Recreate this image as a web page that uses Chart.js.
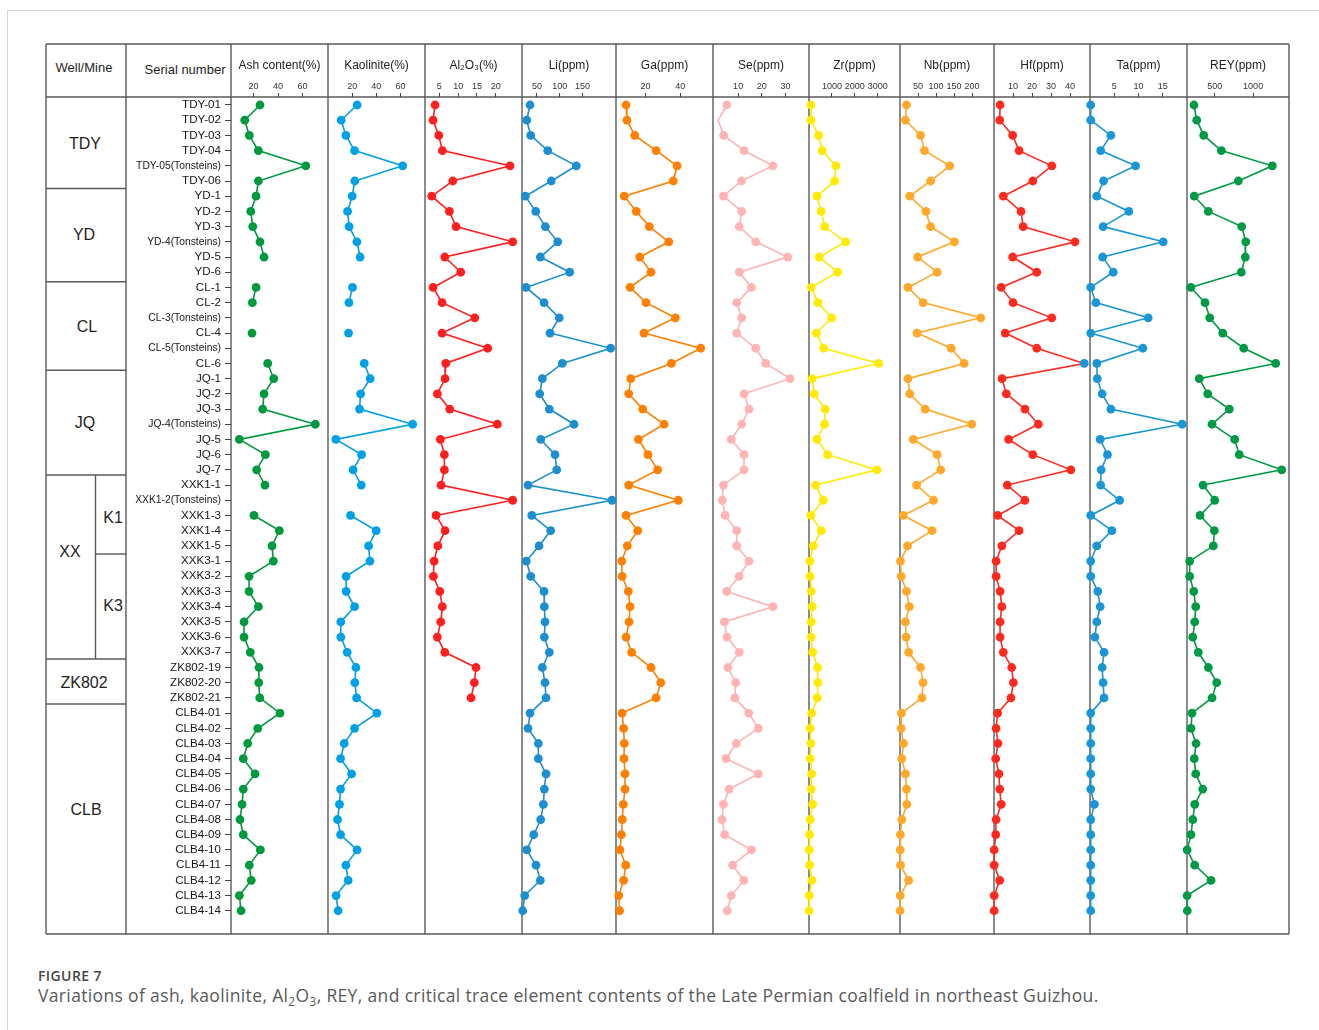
<!DOCTYPE html>
<html>
<head>
<meta charset="utf-8">
<title>Figure 7 – Late Permian coalfield, northeast Guizhou</title>
<script src="https://cdn.jsdelivr.net/npm/chart.js@4.4.1/dist/chart.umd.min.js"></script>
<style>
  html, body { margin: 0; padding: 0; background: #fff; }
  #page { position: relative; width: 1319px; height: 1030px; overflow: hidden;
          font-family: 'Liberation Sans', Arial, Helvetica, sans-serif; color: #1e1e1e; }
  #frame { position: absolute; left: 7px; top: 10px; width: 1400px; height: 1100px;
           border-left: 1px solid #d6d6d6; border-top: 1px solid #d6d6d6; }
  #grid { position: absolute; left: 0; top: 0; }
  .lbl { position: absolute; transform: translate(-50%, -50%); white-space: nowrap; }
  .grp { font-size: 16px; }
  .head { font-size: 13px; }
  canvas { position: absolute; }
  .cap1 { position: absolute; left: 38px; top: 966px; font: 600 14px 'Open Sans', sans-serif;
          letter-spacing: 0.4px; color: #474747; }
  .cap2 { position: absolute; left: 38px; top: 983px; font: 17.5px 'Open Sans', sans-serif;
          letter-spacing: 0.35px; color: #595959; white-space: nowrap; }
  .cap2 sub { font-size: 0.68em; vertical-align: -0.3em; line-height: 0; }
</style>
</head>
<body>
<div id="page">
  <div id="frame"></div>
  <svg id="grid" width="1319" height="1030"></svg>

  <div class="lbl head" style="left:84px;top:67px">Well/Mine</div>
  <div class="lbl head" style="left:185px;top:69px">Serial number</div>

  <div class="lbl grp" style="left:85px;top:144px">TDY</div>
  <div class="lbl grp" style="left:84px;top:235px">YD</div>
  <div class="lbl grp" style="left:87px;top:327px">CL</div>
  <div class="lbl grp" style="left:85px;top:423px">JQ</div>
  <div class="lbl grp" style="left:70px;top:552px">XX</div>
  <div class="lbl grp" style="left:113px;top:518px">K1</div>
  <div class="lbl grp" style="left:113px;top:606px">K3</div>
  <div class="lbl grp" style="left:84px;top:683px">ZK802</div>
  <div class="lbl grp" style="left:86px;top:810px">CLB</div>

  <div class="cap1">FIGURE 7</div>
  <div class="cap2">Variations of ash, kaolinite, Al<sub>2</sub>O<sub>3</sub>, REY, and critical trace element contents of the Late Permian coalfield in northeast Guizhou.</div>
</div>

<script>
// ---- Samples, top to bottom ----
const samples = [
  'TDY-01','TDY-02','TDY-03','TDY-04','TDY-05(Tonsteins)','TDY-06',
  'YD-1','YD-2','YD-3','YD-4(Tonsteins)','YD-5','YD-6',
  'CL-1','CL-2','CL-3(Tonsteins)','CL-4','CL-5(Tonsteins)','CL-6',
  'JQ-1','JQ-2','JQ-3','JQ-4(Tonsteins)','JQ-5','JQ-6','JQ-7',
  'XXK1-1','XXK1-2(Tonsteins)','XXK1-3','XXK1-4','XXK1-5',
  'XXK3-1','XXK3-2','XXK3-3','XXK3-4','XXK3-5','XXK3-6','XXK3-7',
  'ZK802-19','ZK802-20','ZK802-21',
  'CLB4-01','CLB4-02','CLB4-03','CLB4-04','CLB4-05','CLB4-06','CLB4-07',
  'CLB4-08','CLB4-09','CLB4-10','CLB4-11','CLB4-12','CLB4-13','CLB4-14'
];

// ---- Measured contents (null = not analysed) ----
const ash = [25.3,12.9,16.6,24.0,62.6,24.0, 22.1,17.8,19.4,25.3,28.6,null,
  22.1,19.1,null,18.8,null,31.6, 36.5,28.6,27.5,70.4,8.5,29.7,22.6,
  29.4,null,20.4,41.1,35.1, 36.2,16.4,16.4,24.0,12.3,12.3,17.4, 24.5,24.3,25.1,
  41.6,23.5,15.3,11.7,21.3,11.7,10.7,9.0,11.7,25.6,16.6,18.2,8.5,9.9];

const kaolinite = [24.1,10.9,14.8,22.0,61.8,22.2, 20.0,16.2,17.5,23.9,26.6,null,
  20.3,17.3,null,17.0,null,30.0, 34.9,27.0,26.1,70.1,6.5,27.8,20.8,
  27.5,null,18.7,39.9,33.6, 34.7,15.0,15.0,22.0,10.6,10.6,15.9, 23.1,22.2,23.7,
  40.5,22.0,13.4,10.4,19.5,10.4,9.5,7.9,10.4,24.1,14.8,16.7,6.7,8.4];

const al2o3 = [3.87,3.34,4.85,5.81,23.77,8.57, 3.0,7.67,9.44,24.48,6.45,10.69,
  3.34,5.73,14.4,5.73,17.85,6.71, 6.53,4.48,7.77,20.4,5.28,6.34,6.34,
  5.46,24.48,4.14,6.53,4.59, 3.61,3.42,5.12,5.81,5.38,4.48,6.45, 14.75,14.3,13.42,
  null,null,null,null,null,null,null,null,null,null,null,null,null,null];

const li = [34.7,27.5,36.3,73.6,136.5,81.5, 24.4,47.3,68.4,95.6,57.4,122,
  25.9,65.5,99.1,78.7,212,105.7, 61.8,56,77.1,131.4,58.2,89.7,93.4,
  30.3,215,38.5,80.2,54.5, 26.6,36.3,65.5,66.2,67.7,66.2,77.1, 61.8,67.7,69.9,
  34.7,30.3,53,53,69.9,66.2,64,58.2,42.9,27.5,47.9,57.4,23.1,18.7];

const ga = [8.8,9.3,13.8,26.1,38.2,36.0, 7.8,14.7,22.2,33.4,16.7,23.2,
  11.1,20.3,37.2,19.1,51.8,34.9, 11.5,10.3,18.4,30.7,15.9,21.4,27.0,
  10.3,38.9,8.8,15.5,9.5, 6.3,6.5,10.1,11.1,10.5,8.8,12.0, 23.2,28.8,26.1,
  6.5,7.4,7.8,7.6,8.2,8.2,7.2,6.6,6.1,5.3,8.6,7.4,4.6,5.1];

const se = [5.2,1.6,3.9,12.5,24.7,11.4, 3.8,11.5,10.5,17.4,30.9,10.5,
  15.6,9.4,11.5,9.4,17.4,21.6, 31.9,12.5,14.6,11.5,7.1,12.5,12.5,
  3.8,3.3,4.5,9.4,9.4, 14.6,10.4,5.2,24.7,4.2,5.3,10.5, 5.7,9.0,8.6,
  14.5,18.5,9.2,4.9,18.5,6.2,3.8,3.2,4.3,15.6,7.7,12.4,7.1,5.4];

const zr = [83,83,419,576,1175,1118, 345,533,681,1598,445,1249,
  96,389,987,314,638,3039, 140,227,707,681,345,812,2965,
  288,620,83,533,183, 39,52,96,140,96,96,157, 376,389,358,
  114,52,83,52,114,96,157,52,26,9,26,127,9,2];

const nb = [18,15,57,68,138,85, 27,72,85,151,49,103,
  22,64,224,47,142,178, 22,27,70,199,37,103,113,
  46,93,9,89,21, 1.4,3.3,18,26,15,17,24, 57,64,61,
  4,3,10,5,15,18,19,5,1,0.5,1.4,24,0.5,0.3];

const hf = [3.2,3.0,9.8,13.2,30.4,20.4, 4.9,14.2,15.3,42.6,9.8,22.5,
  3.8,10,30.4,5.9,22.5,47.5, 4.2,6.5,16.3,23.3,7.7,20.4,40.4,
  7.0,16.2,1.9,13.2,4.1, 1.1,1.1,3.2,4.1,3.2,3.2,4.9, 9.3,10.2,8.9,
  1.9,1.1,2.1,0.9,2.6,3.0,3.8,1.1,0.9,0.1,0.1,3.0,0.1,0.1];

const ta = [0.15,0.15,4.3,2.2,9.4,2.8, 1.4,8.0,2.7,15.1,2.6,4.8,
  0.15,1.2,12.0,0.15,10.9,1.4, 1.5,2.5,4.3,19.0,2.1,3.6,2.3,
  2.2,6.1,0.15,4.5,1.4, 0.15,0.15,1.6,2.1,1.4,1.0,2.9, 2.5,2.7,2.9,
  0.15,0.15,0.15,0.15,0.15,0.15,0.9,0.15,0.15,0.15,0.15,0.15,0.15,0.15];

const rey = [230,266,357,586,1250,807, 234,417,852,904,898,846,
  188,374,435,604,878,1294, 299,409,690,465,760,820,1372,
  348,500,309,495,482, 174,174,227,253,240,214,286, 417,526,465,
  204,191,257,234,253,344,240,214,191,141,240,452,141,143];

// ---- Header tick labels for each column ----
const ashTicks = [20, 40, 60];
const kaoliniteTicks = [20, 40, 60];
const al2o3Ticks = [5, 10, 15, 20];
const liTicks = [50, 100, 150];
const gaTicks = [20, 40];
const seTicks = [10, 20, 30];
const zrTicks = [1000, 2000, 3000];
const nbTicks = [50, 100, 150, 200];
const hfTicks = [10, 20, 30, 40];
const taTicks = [5, 10, 15];
const reyTicks = [500, 1000];

// ---- Table layout ----
const FONT = "'Liberation Sans', Arial, Helvetica, sans-serif";
const T = { left: 46, right: 1289, top: 44, head: 97, bottom: 934 };
const SERIAL_LEFT = 126;
const colEdges = [231, 328, 425, 522, 616, 713, 809, 900, 994, 1090, 1187, 1289];
const PAD = 8;

// table rules
(function drawRules() {
  const svg = document.getElementById('grid');
  const ns = 'http://www.w3.org/2000/svg';
  const line = (x1, y1, x2, y2) => {
    const l = document.createElementNS(ns, 'line');
    l.setAttribute('x1', x1); l.setAttribute('y1', y1);
    l.setAttribute('x2', x2); l.setAttribute('y2', y2);
    l.setAttribute('stroke', '#5a5a5a'); l.setAttribute('stroke-width', '1.4');
    svg.appendChild(l);
  };
  line(T.left, T.top, T.right, T.top);
  line(T.left, T.bottom, T.right, T.bottom);
  line(T.left, T.head, T.right, T.head);
  line(T.left, T.top, T.left, T.bottom);
  line(SERIAL_LEFT, T.top, SERIAL_LEFT, T.bottom);
  colEdges.forEach(x => line(x, T.top, x, T.bottom));
  [188.5, 281.7, 370.3, 475, 659, 704].forEach(y => line(T.left, y, SERIAL_LEFT, y));
  line(95.5, 475, 95.5, 659);
  line(95.5, 554, SERIAL_LEFT, 554);
})();

Chart.defaults.font.family = FONT;

const columns = [
  { values: ash,       color: '#009a3e', title: 'Ash content(%)', ticks: ashTicks,       min: 1.7,  max: 80.7 },
  { values: kaolinite, color: '#00a0e6', title: 'Kaolinite(%)',   ticks: kaoliniteTicks, min: 0,    max: 80.3 },
  { values: al2o3,     color: '#ff1f1f', title: 'Al\u2082O\u2083(%)', ticks: al2o3Ticks, min: 1.2,  max: 26.95 },
  { values: li,        color: '#1d8fd0', title: 'Li(ppm)',        ticks: liTicks,        min: 17.1, max: 223.7 },
  { values: ga,        color: '#ff8000', title: 'Ga(ppm)',        ticks: gaTicks,        min: 3.0,  max: 58.9 },
  { values: se,        color: '#ffb3b3', title: 'Se(ppm)',        ticks: seTicks,        min: -0.6, max: 39.9,
    radius: samples.map((s, i) => i === 1 ? 0 : 4.4) },
  { values: zr,        color: '#ffea00', title: 'Zr(ppm)',        ticks: zrTicks,        min: 0,    max: 3970 },
  { values: nb,        color: '#ffa82a', title: 'Nb(ppm)',        ticks: nbTicks,        min: 0,    max: 261 },
  { values: hf,        color: '#ff2a1f', title: 'Hf(ppm)',        ticks: hfTicks,        min: 0,    max: 50.5,
    pointColors: samples.map((s, i) => i === 17 ? '#1a96d6' : '#ff2a1f') },
  { values: ta,        color: '#1a96d6', title: 'Ta(ppm)',        ticks: taTicks,        min: 0,    max: 20 },
  { values: rey,       color: '#009944', title: 'REY(ppm)',       ticks: reyTicks,       min: 139.3, max: 1467 }
];

// rows: index 0 sits 8px under the header rule, with extra room at the bottom
const ROW_MIN = -0.526, ROW_MAX = 54.53;

const page = document.getElementById('page');
const caption = document.querySelector('.cap1');

columns.forEach((col, k) => {
  const L = colEdges[k], R = colEdges[k + 1];
  const withLabels = k === 0;
  const left = withLabels ? SERIAL_LEFT : L - PAD;
  const width = (R + PAD) - left;
  const cv = document.createElement('canvas');
  cv.width = width;
  cv.height = T.bottom - T.top;
  cv.style.left = left + 'px';
  cv.style.top = T.top + 'px';
  page.insertBefore(cv, caption);

  new Chart(cv, {
    type: 'line',
    data: {
      datasets: [{
        data: col.values.map((v, i) => ({ x: v, y: i })),
        borderColor: col.color,
        backgroundColor: col.color,
        pointBackgroundColor: col.pointColors || col.color,
        pointBorderWidth: 0,
        pointRadius: col.radius || 4.4,
        borderWidth: 1.6,
        tension: 0,
        spanGaps: false,
        clip: false
      }]
    },
    options: {
      responsive: false,
      animation: false,
      events: [],
      indexAxis: 'y',
      layout: { autoPadding: false, padding: { left: withLabels ? 0 : PAD, right: PAD, top: 0, bottom: 0 } },
      plugins: { legend: { display: false }, tooltip: { enabled: false } },
      scales: {
        x: {
          type: 'linear',
          position: 'top',
          min: col.min,
          max: col.max,
          afterBuildTicks: s => { s.ticks = col.ticks.map(v => ({ value: v })); },
          afterFit: s => { s.height = T.head - T.top; s.paddingLeft = 0; s.paddingRight = 0; },
          ticks: { autoSkip: false, maxRotation: 0, padding: 1, color: '#333',
                   font: { size: 9 }, callback: v => String(v) },
          grid: { drawOnChartArea: false, drawTicks: true, tickLength: 4, color: '#444', lineWidth: 1 },
          border: { display: false },
          title: { display: true, text: col.title, color: '#222',
                   font: { size: 12 }, padding: { top: 14.5, bottom: 0 } }
        },
        y: {
          type: 'linear',
          reverse: true,
          min: ROW_MIN,
          max: ROW_MAX,
          display: withLabels,
          afterBuildTicks: s => { s.ticks = samples.map((_, i) => ({ value: i })); },
          afterFit: s => {
            s.width = withLabels ? colEdges[0] - SERIAL_LEFT : 0;
            s.paddingTop = 0; s.paddingBottom = 0;
          },
          ticks: {
            autoSkip: false,
            padding: 4,
            color: '#161616',
            font: c => ({ family: FONT,
                          size: (samples[c.tick && c.tick.value] || '').includes('Tonsteins') ? 10.3 : 11.6 }),
            callback: v => samples[v]
          },
          grid: { drawOnChartArea: false, drawTicks: true, tickLength: 6, color: '#444', lineWidth: 1 },
          border: { display: false }
        }
      }
    }
  });
});
</script>
</body>
</html>
